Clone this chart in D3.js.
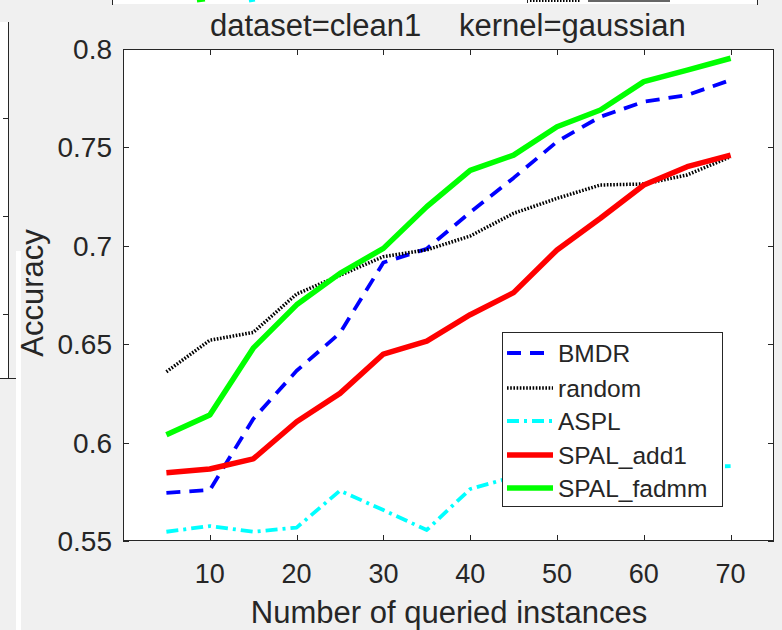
<!DOCTYPE html>
<html><head><meta charset="utf-8">
<script src="https://cdn.jsdelivr.net/npm/d3@7"></script>
<style>
html,body{margin:0;padding:0;background:#f0f0f0;}
svg{display:block;}
text{font-family:"Liberation Sans",Arial,Helvetica,sans-serif;fill:#262626;}
</style></head>
<body>
<svg id="c" width="782" height="630"></svg>
<script>
// ---- data ----
const queried = [5,10,15,20,25,30,35,40,45,50,55,60,65,70];
const BMDR       = [0.5745,0.5759,0.6120,0.6365,0.6557,0.6915,0.6985,0.7170,0.7345,0.7529,0.7656,0.7732,0.7766,0.7842];
const randomSel  = [0.6360,0.6520,0.6560,0.6755,0.6850,0.6945,0.6979,0.7050,0.7165,0.7241,0.7309,0.7314,0.7360,0.7453];
const ASPL       = [0.5547,0.5576,0.5547,0.5568,0.5756,0.5657,0.5556,0.5764,0.5826,0.5850,0.5860,0.5870,0.5878,0.5880];
const SPAL_add1  = [0.5847,0.5866,0.5917,0.6106,0.6250,0.6450,0.6516,0.6650,0.6762,0.6979,0.7140,0.7309,0.7402,0.7461];
const SPAL_fadmm = [0.6040,0.6140,0.6480,0.6700,0.6860,0.6987,0.7199,0.7383,0.7461,0.7605,0.7690,0.7834,0.7893,0.7953];
const xTicks = [10,20,30,40,50,60,70];
const yTicks = [0.55,0.6,0.65,0.7,0.75,0.8];
const titleLeft = "dataset=clean1";
const titleRight = "kernel=gaussian";
const xLabel = "Number of queried instances";
const yLabel = "Accuracy";

const series = [
  {name:"BMDR", values:BMDR, color:"#0000ff", width:3.8, dash:"14,9"},
  {name:"random", values:randomSel, color:"#000000", width:3.5, dash:"1.6,1.6"},
  {name:"ASPL", values:ASPL, color:"#00ffff", width:3.8, dash:"12,5,3,5"},
  {name:"SPAL_add1", values:SPAL_add1, color:"#ff0000", width:5.5, dash:null},
  {name:"SPAL_fadmm", values:SPAL_fadmm, color:"#00ff00", width:5.5, dash:null}
];

const svg = d3.select("#c");
const L=123, R=774, T=49, B=541;
const x = d3.scaleLinear().domain([0,75]).range([L,R]);
const y = d3.scaleLinear().domain([0.55,0.8]).range([B,T]);
const axisColor="#262626";

// ---- background artifacts (neighbouring figures) ----
svg.append("rect").attr("x",112).attr("y",0).attr("width",645).attr("height",4).attr("fill","#fff");
svg.append("line").attr("x1",112.5).attr("x2",112.5).attr("y1",0).attr("y2",5).attr("stroke",axisColor);
svg.append("line").attr("x1",757.5).attr("x2",757.5).attr("y1",0).attr("y2",5).attr("stroke",axisColor);
svg.append("line").attr("x1",527.5).attr("x2",527.5).attr("y1",0).attr("y2",3).attr("stroke",axisColor);
svg.append("line").attr("x1",197).attr("x2",205).attr("y1",1).attr("y2",0).attr("stroke","#00ff00").attr("stroke-width",3);
svg.append("line").attr("x1",249).attr("x2",255).attr("y1",1).attr("y2",0).attr("stroke","#00ffff").attr("stroke-width",3);
svg.append("line").attr("x1",530).attr("x2",580).attr("y1",1).attr("y2",1).attr("stroke","#000").attr("stroke-width",2).attr("stroke-dasharray","1.5,1.5");
svg.append("rect").attr("x",588).attr("y",0).attr("width",82).attr("height",2).attr("fill","#666");
svg.append("rect").attr("x",0).attr("y",22).attr("width",8).attr("height",356).attr("fill","#fff");
svg.append("line").attr("x1",8.5).attr("x2",8.5).attr("y1",22).attr("y2",378.5).attr("stroke",axisColor);
svg.append("line").attr("x1",0).attr("x2",17).attr("y1",378.5).attr("y2",378.5).attr("stroke",axisColor);
[118,216,314].forEach(v=>svg.append("line").attr("x1",3).attr("x2",8.5).attr("y1",v+0.5).attr("y2",v+0.5).attr("stroke",axisColor));
svg.append("rect").attr("x",16).attr("y",251).attr("width",5).attr("height",379).attr("fill","#fff");

// ---- plot area ----
svg.append("rect").attr("x",L).attr("y",T).attr("width",R-L).attr("height",B-T).attr("fill","#fff");

const g = svg.append("g");
svg.append("clipPath").attr("id","clip").append("rect")
  .attr("x",L).attr("y",T).attr("width",R-L).attr("height",B-T);
const line = d3.line().x((d,i)=>x(queried[i])).y(d=>y(d));
series.forEach(s=>{
  g.append("path").datum(s.values).attr("d",line)
    .attr("fill","none").attr("stroke",s.color).attr("stroke-width",s.width)
    .attr("stroke-dasharray",s.dash).attr("stroke-linejoin","round")
    .attr("clip-path","url(#clip)");
});

// ---- axes ----
const tl = 6;
const ax = svg.append("g").attr("stroke",axisColor).attr("stroke-width",1);
ax.append("rect").attr("x",L+0.5).attr("y",T+0.5).attr("width",R-L-1).attr("height",B-T-1).attr("fill","none");
xTicks.forEach(t=>{
  const px=Math.round(x(t))+0.5;
  ax.append("line").attr("x1",px).attr("x2",px).attr("y1",B).attr("y2",B-tl);
  ax.append("line").attr("x1",px).attr("x2",px).attr("y1",T).attr("y2",T+tl);
});
yTicks.forEach(t=>{
  const py=Math.round(y(t))+0.5;
  ax.append("line").attr("x1",L).attr("x2",L+tl).attr("y1",py).attr("y2",py);
  ax.append("line").attr("x1",R).attr("x2",R-tl).attr("y1",py).attr("y2",py);
});
const fmtY = d=>String(+d.toFixed(2));
svg.append("g").selectAll("text").data(xTicks).join("text")
  .attr("x",d=>x(d)).attr("y",583).attr("text-anchor","middle")
  .attr("font-size",27).text(d=>d);
svg.append("g").selectAll("text").data(yTicks).join("text")
  .attr("x",112).attr("y",d=>y(d)+10).attr("text-anchor","end")
  .attr("font-size",28).text(fmtY);

// ---- labels ----
svg.append("text").attr("x",449).attr("y",623).attr("text-anchor","middle")
  .attr("font-size",31).text(xLabel);
svg.append("text").attr("transform","translate(43,293) rotate(-90)").attr("text-anchor","middle")
  .attr("font-size",31).text(yLabel);
svg.append("text").attr("x",210).attr("y",36).attr("font-size",31).text(titleLeft);
svg.append("text").attr("x",459).attr("y",36).attr("font-size",31).text(titleRight);

// ---- legend ----
const lg = svg.append("g");
lg.append("rect").attr("x",502.5).attr("y",332.5).attr("width",220).attr("height",174)
  .attr("fill","#fff").attr("stroke",axisColor);
const rowY = [353,388,421,455,488];
series.forEach((s,i)=>{
  lg.append("line").attr("x1",507).attr("x2",553).attr("y1",rowY[i]).attr("y2",rowY[i])
    .attr("stroke",s.color).attr("stroke-width",s.width).attr("stroke-dasharray",s.dash);
  lg.append("text").attr("x",558).attr("y",rowY[i]+8.5).attr("font-size",24.5).text(s.name);
});
</script>
</body></html>
